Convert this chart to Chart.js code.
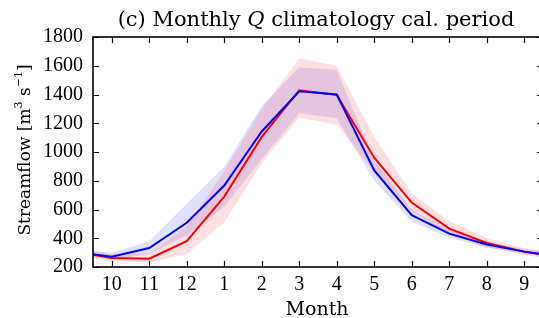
<!DOCTYPE html>
<html>
<head>
<meta charset="utf-8">
<script src="https://cdn.jsdelivr.net/npm/chart.js@4/dist/chart.umd.min.js"></script>
<style>
  html, body { margin: 0; padding: 0; background: #fff; overflow: hidden; }
  #chart { display: block; }
</style>
</head>
<body>
<canvas id="chart" width="544" height="318"></canvas>
<script>
// months of the hydrological year (Oct..Sep)
const months = ['10', '11', '12', '1', '2', '3', '4', '5', '6', '7', '8', '9'];

// red: mean and spread band
const qRed      = [263, 258, 380, 690, 1105, 1430, 1397, 960, 648, 467, 367, 307];
const qRedHigh  = [290, 295, 480, 870, 1300, 1650, 1600, 1105, 713, 520, 400, 330];
const qRedLow   = [240, 230, 290, 510, 920, 1240, 1190, 860, 590, 425, 340, 285];

// blue: mean and spread band
const qBlue     = [272, 332, 508, 767, 1143, 1423, 1400, 872, 560, 432, 356, 307];
const qBlueHigh = [300, 380, 640, 900, 1320, 1590, 1570, 940, 600, 460, 375, 325];
const qBlueLow  = [250, 290, 420, 620, 950, 1270, 1235, 800, 515, 405, 335, 290];

const yTicks = [200, 400, 600, 800, 1000, 1200, 1400, 1600, 1800];

const SERIF = '"Liberation Serif", "DejaVu Serif", serif';
const TITLE_FONT = '"DejaVu Serif", serif';

// climatology wraps round: Sep before Oct on the left, Oct after Sep on the right
const wrap = vals => [vals[vals.length - 1], ...vals, vals[0]]
    .map((v, i) => ({ x: i - 1, y: v }));

const band = (vals, color, fill, order) => ({
    data: wrap(vals),
    borderWidth: 0,
    borderColor: 'rgba(0,0,0,0)',
    backgroundColor: color,
    pointRadius: 0,
    fill,
    order,
});

const line = (vals, color, order) => ({
    data: wrap(vals),
    borderColor: color,
    borderWidth: 2,
    pointRadius: 0,
    fill: false,
    order,
});

const frame = {
    id: 'frame',
    afterDraw(chart) {
        const { ctx, chartArea: a, scales: { x, y } } = chart;
        ctx.save();
        ctx.strokeStyle = '#000';
        ctx.lineWidth = 1.2;
        ctx.beginPath();
        x.ticks.forEach(t => {
            const px = Math.round(x.getPixelForValue(t.value)) + 0.5;
            ctx.moveTo(px, a.bottom); ctx.lineTo(px, a.bottom - 6);
            ctx.moveTo(px, a.top); ctx.lineTo(px, a.top + 6);
        });
        y.ticks.forEach(t => {
            const py = Math.round(y.getPixelForValue(t.value)) + 0.5;
            ctx.moveTo(a.left, py); ctx.lineTo(a.left + 6, py);
            ctx.moveTo(a.right, py); ctx.lineTo(a.right - 6, py);
        });
        ctx.stroke();
        ctx.lineWidth = 1.6;
        ctx.strokeRect(a.left, a.top, a.right - a.left, a.bottom - a.top);

        ctx.fillStyle = '#000';
        ctx.textBaseline = 'alphabetic';

        // title with italic Q
        const parts = [
            ['(c) Monthly ', `21px ${TITLE_FONT}`],
            ['Q', `italic 21px ${TITLE_FONT}`],
            [' climatology cal. period', `21px ${TITLE_FONT}`],
        ];
        let w = 0;
        parts.forEach(([s, f]) => { ctx.font = f; w += ctx.measureText(s).width; });
        let tx = 316 - w / 2;
        parts.forEach(([s, f]) => {
            ctx.font = f;
            ctx.textAlign = 'left';
            ctx.fillText(s, tx, 26);
            tx += ctx.measureText(s).width;
        });

        // x axis title
        ctx.font = `19px ${TITLE_FONT}`;
        ctx.textAlign = 'center';
        ctx.fillText('Month', 317, 315);

        // y axis title, rotated, with superscripts
        ctx.translate(30, (a.top + a.bottom) / 2 - 2);
        ctx.rotate(-Math.PI / 2);
        const yparts = [
            ['Streamflow [m', `17px ${TITLE_FONT}`, 0],
            ['3', `11px ${TITLE_FONT}`, -8],
            [' s', `17px ${TITLE_FONT}`, 0],
            ['\u22121', `11px ${TITLE_FONT}`, -8],
            [']', `17px ${TITLE_FONT}`, 0],
        ];
        w = 0;
        yparts.forEach(([s, f]) => { ctx.font = f; w += ctx.measureText(s).width; });
        let yx = -w / 2;
        ctx.textAlign = 'left';
        yparts.forEach(([s, f, dy]) => {
            ctx.font = f;
            ctx.fillText(s, yx, dy);
            yx += ctx.measureText(s).width;
        });
        ctx.restore();
    }
};

new Chart(document.getElementById('chart').getContext('2d'), {
    type: 'line',
    data: {
        datasets: [
            band(qBlueHigh, 'rgba(0,0,255,0.12)', false, 4),
            band(qBlueLow, 'rgba(0,0,255,0.12)', '-1', 4),
            band(qRedHigh, 'rgba(255,0,0,0.12)', false, 3),
            band(qRedLow, 'rgba(255,0,0,0.12)', '-1', 3),
            line(qRed, '#ff0000', 1),
            line(qBlue, '#0000ff', 0),
        ]
    },
    options: {
        responsive: false,
        animation: false,
        devicePixelRatio: 1,
        clip: 0,
        layout: { padding: { top: 37, left: 0, right: 1, bottom: 0 } },
        plugins: { legend: { display: false }, tooltip: { enabled: false } },
        elements: { line: { tension: 0 } },
        scales: {
            x: {
                type: 'linear',
                min: -0.5,
                max: 11.5,
                afterBuildTicks: s => { s.ticks = months.map((_, i) => ({ value: i })); },
                afterFit: s => { s.height = 51; },
                ticks: {
                    callback: v => months[v],
                    color: '#000',
                    font: { family: SERIF, size: 20 },
                    padding: 6,
                    maxRotation: 0,
                    autoSkip: false,
                },
                grid: { drawOnChartArea: false, drawTicks: false },
                border: { display: false },
            },
            y: {
                min: 200,
                max: 1800,
                afterBuildTicks: s => { s.ticks = yTicks.map(v => ({ value: v })); },
                afterFit: s => { s.width = 93; },
                ticks: {
                    callback: v => String(v),
                    color: '#000',
                    font: { family: SERIF, size: 20 },
                    padding: 10,
                },
                grid: { drawOnChartArea: false, drawTicks: false },
                border: { display: false },
            }
        }
    },
    plugins: [frame]
});
</script>
</body>
</html>
